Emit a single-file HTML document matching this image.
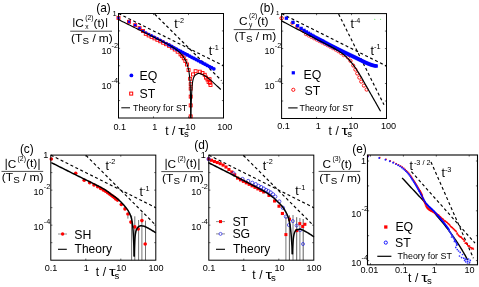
<!DOCTYPE html>
<html><head><meta charset="utf-8"><title>Correlation functions</title>
<style>
html,body{margin:0;padding:0;background:#fff;}
body{width:479px;height:287px;overflow:hidden;}
svg{display:block;will-change:transform;opacity:0.999;filter:blur(0.3px);}
svg text{font-family:"Liberation Sans",sans-serif;}
</style></head><body>
<svg width="479" height="287" viewBox="0 0 479 287">
<rect width="479" height="287" fill="#fff"/>
<line x1="118.5" y1="13.5" x2="223.5" y2="65.75" stroke="#000" stroke-width="1.15" stroke-dasharray="3.0 2.5"/>
<line x1="154.7" y1="14.1" x2="221.5" y2="80.58" stroke="#000" stroke-width="1.2" stroke-dasharray="3.0 2.5"/>
<rect x="117" y="16.4" width="3" height="3" fill="none" stroke="#ff0000" stroke-width="0.9"/>
<rect x="127.54" y="20.32" width="3" height="3" fill="none" stroke="#ff0000" stroke-width="0.9"/>
<rect x="133.7" y="23.7" width="3" height="3" fill="none" stroke="#ff0000" stroke-width="0.9"/>
<rect x="138.07" y="26.68" width="3" height="3" fill="none" stroke="#ff0000" stroke-width="0.9"/>
<rect x="141.46" y="29.47" width="3" height="3" fill="none" stroke="#ff0000" stroke-width="0.9"/>
<rect x="144.26" y="32.32" width="3" height="3" fill="none" stroke="#ff0000" stroke-width="0.9"/>
<rect x="147.16" y="33.96" width="3" height="3" fill="none" stroke="#ff0000" stroke-width="0.9"/>
<rect x="150.06" y="35.39" width="3" height="3" fill="none" stroke="#ff0000" stroke-width="0.9"/>
<rect x="152.96" y="36.84" width="3" height="3" fill="none" stroke="#ff0000" stroke-width="0.9"/>
<rect x="155.86" y="38.27" width="3" height="3" fill="none" stroke="#ff0000" stroke-width="0.9"/>
<rect x="158.76" y="39.74" width="3" height="3" fill="none" stroke="#ff0000" stroke-width="0.9"/>
<rect x="161.66" y="41.21" width="3" height="3" fill="none" stroke="#ff0000" stroke-width="0.9"/>
<rect x="164.56" y="42.7" width="3" height="3" fill="none" stroke="#ff0000" stroke-width="0.9"/>
<rect x="167.46" y="44.29" width="3" height="3" fill="none" stroke="#ff0000" stroke-width="0.9"/>
<rect x="170.36" y="46.05" width="3" height="3" fill="none" stroke="#ff0000" stroke-width="0.9"/>
<rect x="173.26" y="47.99" width="3" height="3" fill="none" stroke="#ff0000" stroke-width="0.9"/>
<rect x="176.16" y="50.2" width="3" height="3" fill="none" stroke="#ff0000" stroke-width="0.9"/>
<rect x="179.06" y="52.87" width="3" height="3" fill="none" stroke="#ff0000" stroke-width="0.9"/>
<rect x="180.66" y="54.63" width="3" height="3" fill="none" stroke="#ff0000" stroke-width="0.9"/>
<rect x="182.26" y="56.75" width="3" height="3" fill="none" stroke="#ff0000" stroke-width="0.9"/>
<rect x="183.86" y="59.41" width="3" height="3" fill="none" stroke="#ff0000" stroke-width="0.9"/>
<rect x="185.46" y="63" width="3" height="3" fill="none" stroke="#ff0000" stroke-width="0.9"/>
<rect x="187.06" y="68.56" width="3" height="3" fill="none" stroke="#ff0000" stroke-width="0.9"/>
<rect x="188.66" y="77.26" width="3" height="3" fill="none" stroke="#ff0000" stroke-width="0.9"/>
<rect x="189.2" y="82.7" width="3" height="3" fill="none" stroke="#ff0000" stroke-width="0.9"/>
<rect x="189.2" y="87.1" width="3" height="3" fill="none" stroke="#ff0000" stroke-width="0.9"/>
<rect x="189.2" y="95.1" width="3" height="3" fill="none" stroke="#ff0000" stroke-width="0.9"/>
<rect x="189.2" y="103.9" width="3" height="3" fill="none" stroke="#ff0000" stroke-width="0.9"/>
<rect x="189.2" y="114.9" width="3" height="3" fill="none" stroke="#ff0000" stroke-width="0.9"/>
<rect x="191.5" y="72.9" width="3" height="3" fill="none" stroke="#ff0000" stroke-width="0.9"/>
<rect x="194.1" y="69.7" width="3" height="3" fill="none" stroke="#ff0000" stroke-width="0.9"/>
<rect x="198.3" y="70.2" width="3" height="3" fill="none" stroke="#ff0000" stroke-width="0.9"/>
<rect x="201" y="71.5" width="3" height="3" fill="none" stroke="#ff0000" stroke-width="0.9"/>
<rect x="203.2" y="73.3" width="3" height="3" fill="none" stroke="#ff0000" stroke-width="0.9"/>
<rect x="204.5" y="76.1" width="3" height="3" fill="none" stroke="#ff0000" stroke-width="0.9"/>
<rect x="206" y="78" width="3" height="3" fill="none" stroke="#ff0000" stroke-width="0.9"/>
<rect x="208" y="77.7" width="3" height="3" fill="none" stroke="#ff0000" stroke-width="0.9"/>
<rect x="207.1" y="80.5" width="3" height="3" fill="none" stroke="#ff0000" stroke-width="0.9"/>
<rect x="209" y="83.5" width="3" height="3" fill="none" stroke="#ff0000" stroke-width="0.9"/>
<rect x="208.5" y="81.3" width="3" height="3" fill="none" stroke="#ff0000" stroke-width="0.9"/>
<circle cx="118.5" cy="17.9" r="1.35" fill="#0000ff"/>
<circle cx="129.04" cy="21.82" r="1.35" fill="#0000ff"/>
<circle cx="135.2" cy="25.2" r="1.35" fill="#0000ff"/>
<circle cx="139.57" cy="28.18" r="1.35" fill="#0000ff"/>
<circle cx="142.96" cy="30.98" r="1.35" fill="#0000ff"/>
<circle cx="145.76" cy="32.57" r="1.35" fill="#0000ff"/>
<circle cx="148.66" cy="34.11" r="1.35" fill="#0000ff"/>
<circle cx="151.56" cy="35.59" r="1.5" fill="#0000ff"/>
<circle cx="154.46" cy="37.02" r="1.5" fill="#0000ff"/>
<circle cx="157.36" cy="38.45" r="1.5" fill="#0000ff"/>
<circle cx="160.26" cy="39.94" r="1.5" fill="#0000ff"/>
<circle cx="163.16" cy="41.53" r="1.5" fill="#0000ff"/>
<circle cx="166.06" cy="43.18" r="1.5" fill="#0000ff"/>
<circle cx="168.9" cy="44.82" r="1.85" fill="#0000ff"/>
<circle cx="171.57" cy="46.37" r="1.85" fill="#0000ff"/>
<circle cx="174.07" cy="47.79" r="1.85" fill="#0000ff"/>
<circle cx="176.43" cy="49.08" r="1.85" fill="#0000ff"/>
<circle cx="178.64" cy="50.28" r="1.85" fill="#0000ff"/>
<circle cx="180.84" cy="51.46" r="1.85" fill="#0000ff"/>
<circle cx="183.04" cy="52.62" r="1.85" fill="#0000ff"/>
<circle cx="185.24" cy="53.79" r="1.85" fill="#0000ff"/>
<circle cx="187.44" cy="54.95" r="1.85" fill="#0000ff"/>
<circle cx="189.64" cy="56.11" r="1.85" fill="#0000ff"/>
<circle cx="191.84" cy="57.28" r="1.85" fill="#0000ff"/>
<circle cx="194.04" cy="58.44" r="1.85" fill="#0000ff"/>
<circle cx="196.24" cy="59.6" r="1.85" fill="#0000ff"/>
<circle cx="198.44" cy="60.75" r="1.85" fill="#0000ff"/>
<circle cx="200.64" cy="61.91" r="1.85" fill="#0000ff"/>
<circle cx="202.84" cy="63.07" r="1.85" fill="#0000ff"/>
<circle cx="205.04" cy="64.22" r="1.85" fill="#0000ff"/>
<circle cx="207.24" cy="65.38" r="1.85" fill="#0000ff"/>
<circle cx="209.44" cy="66.53" r="1.85" fill="#0000ff"/>
<circle cx="211.64" cy="67.68" r="1.85" fill="#0000ff"/>
<circle cx="213.84" cy="68.8" r="1.85" fill="#0000ff"/>
<path d="M118.5 19.6 L119.89 20.29 L121.27 20.98 L122.66 21.66 L124.04 22.35 L125.42 23.04 L126.81 23.73 L128.19 24.42 L129.58 25.11 L130.96 25.8 L132.35 26.49 L133.73 27.18 L135.12 27.87 L136.5 28.55 L137.88 29.24 L139.27 29.94 L140.65 30.63 L142.04 31.31 L143.42 32 L144.81 32.69 L146.2 33.37 L147.58 34.06 L148.97 34.75 L150.35 35.43 L151.74 36.12 L153.12 36.81 L154.5 37.5 L155.89 38.2 L157.27 38.9 L158.64 39.6 L160.02 40.31 L161.39 41.02 L162.77 41.72 L164.15 42.43 L165.52 43.14 L166.89 43.87 L168.25 44.61 L169.59 45.36 L170.93 46.14 L172.26 46.94 L173.58 47.75 L174.87 48.6 L176.13 49.49 L177.36 50.44 L178.55 51.43 L179.68 52.48 L180.75 53.59 L181.78 54.76 L182.75 55.98 L183.65 57.24 L184.45 58.54 L185.2 59.9 L185.9 61.3 L186.53 62.72 L187.06 64.16 L187.52 65.63 L187.96 67.12 L188.35 68.63 L188.68 70.15 L188.95 71.67 L189.16 73.19 L189.36 74.72 L189.54 76.26 L189.71 77.8 L189.86 79.34 L189.98 80.89 L190.09 82.44 L190.16 83.98 L190.22 85.53 L190.26 87.07 L190.3 88.61 L190.34 90.15 L190.38 91.7 L190.41 93.24 L190.45 94.79 L190.48 96.33 L190.51 97.88 L190.54 99.42 L190.56 100.97 L190.59 102.51 L190.61 104.06 L190.63 105.61 L190.64 107.16 L190.66 108.7 L190.67 110.25 L190.68 111.8 L190.69 113.35 L190.7 114.9 L190.7 116.45 L190.7 118" fill="none" stroke="#000" stroke-width="1.1" stroke-linejoin="round"/>
<path d="M190.9 118 L190.9 116.91 L190.91 115.83 L190.92 114.74 L190.94 113.65 L190.96 112.57 L190.98 111.48 L191.01 110.39 L191.03 109.31 L191.07 108.22 L191.1 107.14 L191.14 106.05 L191.18 104.97 L191.22 103.88 L191.26 102.79 L191.3 101.71 L191.35 100.63 L191.4 99.54 L191.44 98.46 L191.49 97.37 L191.54 96.29 L191.59 95.2 L191.64 94.12 L191.69 93.03 L191.75 91.94 L191.81 90.85 L191.87 89.76 L191.95 88.66 L192.02 87.58 L192.11 86.49 L192.21 85.41 L192.32 84.33 L192.44 83.27 L192.57 82.2 L192.74 81.12 L192.97 79.99 L193.27 78.86 L193.62 77.78 L194.04 76.81 L194.51 75.99 L195.16 75.24 L196.07 74.49 L197.11 73.86 L198.18 73.47 L199.18 73.42 L200.2 73.62 L201.24 73.98 L202.29 74.45 L203.31 74.95 L204.27 75.44 L205.2 75.96 L206.11 76.55 L206.99 77.2 L207.86 77.87 L208.72 78.56 L209.57 79.25 L210.41 79.93 L211.24 80.63 L212.06 81.35 L212.86 82.08 L213.66 82.82 L214.45 83.56 L215.25 84.3 L216.05 85.04 L216.84 85.78 L217.64 86.52 L218.43 87.26 L219.22 88 L220.01 88.75 L220.8 89.5" fill="none" stroke="#000" stroke-width="1.1" stroke-linejoin="round"/>
<rect x="118.5" y="13.5" width="105" height="104.5" fill="none" stroke="#000" stroke-width="1.0"/>
<line x1="153.5" y1="118" x2="153.5" y2="116.4" stroke="#000" stroke-width="0.6"/>
<line x1="153.5" y1="13.5" x2="153.5" y2="15.1" stroke="#000" stroke-width="0.6"/>
<line x1="188.5" y1="118" x2="188.5" y2="116.4" stroke="#000" stroke-width="0.6"/>
<line x1="188.5" y1="13.5" x2="188.5" y2="15.1" stroke="#000" stroke-width="0.6"/>
<line x1="118.5" y1="30.92" x2="120.1" y2="30.92" stroke="#000" stroke-width="0.6"/>
<line x1="223.5" y1="30.92" x2="221.9" y2="30.92" stroke="#000" stroke-width="0.6"/>
<line x1="118.5" y1="48.33" x2="120.1" y2="48.33" stroke="#000" stroke-width="0.6"/>
<line x1="223.5" y1="48.33" x2="221.9" y2="48.33" stroke="#000" stroke-width="0.6"/>
<line x1="118.5" y1="65.75" x2="120.1" y2="65.75" stroke="#000" stroke-width="0.6"/>
<line x1="223.5" y1="65.75" x2="221.9" y2="65.75" stroke="#000" stroke-width="0.6"/>
<line x1="118.5" y1="83.17" x2="120.1" y2="83.17" stroke="#000" stroke-width="0.6"/>
<line x1="223.5" y1="83.17" x2="221.9" y2="83.17" stroke="#000" stroke-width="0.6"/>
<line x1="118.5" y1="100.58" x2="120.1" y2="100.58" stroke="#000" stroke-width="0.6"/>
<line x1="223.5" y1="100.58" x2="221.9" y2="100.58" stroke="#000" stroke-width="0.6"/>
<text x="96.3" y="11.5" font-size="11.9" text-anchor="start" fill="#000">(a)</text>
<text x="116.8" y="15.6" font-size="7.6" text-anchor="end" fill="#000">1</text>
<text x="111.5" y="53.6" font-size="9.1" text-anchor="end" fill="#000">10</text>
<text x="111.6" y="47.7" font-size="7.3" text-anchor="start" fill="#000">-2</text>
<text x="111.5" y="88.6" font-size="9.1" text-anchor="end" fill="#000">10</text>
<text x="111.6" y="82.7" font-size="7.3" text-anchor="start" fill="#000">-4</text>
<text x="119.8" y="129.7" font-size="9.1" text-anchor="middle" fill="#000">0.1</text>
<text x="154.8" y="129.7" font-size="9.1" text-anchor="middle" fill="#000">1</text>
<text x="224.8" y="129.7" font-size="9.1" text-anchor="middle" fill="#000">100</text>
<text x="190.4" y="129.7" font-size="9.1" text-anchor="middle" fill="#000">10</text>
<text x="165.2" y="134.6" font-size="12" text-anchor="start" fill="#000">t</text>
<text x="172.1" y="134.6" font-size="12" text-anchor="start" fill="#000">/</text>
<text transform="translate(178.3 134.6) scale(1.400 1)" font-size="12" text-anchor="start" fill="#000">τ</text>
<text x="184" y="136.9" font-size="9.6" text-anchor="start" fill="#000">s</text>
<text x="174.2" y="28.3" font-size="12.5" text-anchor="start" fill="#000">t</text>
<text x="177.7" y="23.05" font-size="7.3" text-anchor="start" fill="#000">-2</text>
<text x="208.8" y="54.9" font-size="12.5" text-anchor="start" fill="#000">t</text>
<text x="212.3" y="49.65" font-size="7.3" text-anchor="start" fill="#000">-1</text>
<line x1="73.8" y1="18.1" x2="73.8" y2="27" stroke="#000" stroke-width="0.95"/>
<text x="75.3" y="26.9" font-size="11.8" text-anchor="start" fill="#000">C</text>
<text x="85.2" y="20.2" font-size="6.8" text-anchor="start" fill="#000">(2)</text>
<text x="85.2" y="28.7" font-size="6.6" text-anchor="start" fill="#000">x</text>
<text transform="translate(93.5 26.7) scale(1.130 1)" font-size="10.6" text-anchor="start" fill="#000">(t)</text>
<line x1="106.6" y1="18.1" x2="106.6" y2="27" stroke="#000" stroke-width="0.95"/>
<line x1="70.2" y1="31.2" x2="112" y2="31.2" stroke="#000" stroke-width="0.7"/>
<text transform="translate(71 42.2) scale(1.120 1)" font-size="10.7" text-anchor="start" fill="#000">(T</text>
<text x="82.5" y="44.3" font-size="9.8" text-anchor="start" fill="#000">S</text>
<text transform="translate(92.4 42.2) scale(1.120 1)" font-size="10.7" text-anchor="start" fill="#000">/</text>
<text transform="translate(98.8 42.2) scale(1.120 1)" font-size="10.7" text-anchor="start" fill="#000">m)</text>
<circle cx="131.4" cy="75.4" r="1.9" fill="#0000ff"/>
<text x="139.6" y="80.2" font-size="12.3" text-anchor="start" fill="#000">EQ</text>
<rect x="129.7" y="92.1" width="3" height="3" fill="none" stroke="#ff0000" stroke-width="1"/>
<text x="139.6" y="98.3" font-size="12.3" text-anchor="start" fill="#000">ST</text>
<line x1="121.3" y1="107.8" x2="130" y2="107.8" stroke="#000" stroke-width="1"/>
<text x="133" y="110.9" font-size="8.9" text-anchor="start" fill="#000">Theory for ST</text>
<line x1="281.6" y1="13.6" x2="386.5" y2="66.05" stroke="#000" stroke-width="1.15" stroke-dasharray="3.0 2.5"/>
<line x1="338.6" y1="14" x2="384" y2="104.8" stroke="#000" stroke-width="1.15" stroke-dasharray="3.0 2.5"/>
<circle cx="281.6" cy="18.2" r="1.7" fill="none" stroke="#ff0000" stroke-width="1"/>
<circle cx="305.8" cy="34.23" r="1.45" fill="none" stroke="#ff0000" stroke-width="0.7"/>
<circle cx="308.5" cy="35.64" r="1.45" fill="none" stroke="#ff0000" stroke-width="0.7"/>
<circle cx="311.2" cy="37.04" r="1.45" fill="none" stroke="#ff0000" stroke-width="0.7"/>
<circle cx="313.9" cy="38.44" r="1.45" fill="none" stroke="#ff0000" stroke-width="0.7"/>
<circle cx="316.6" cy="39.84" r="1.45" fill="none" stroke="#ff0000" stroke-width="0.7"/>
<circle cx="319.3" cy="41.24" r="1.45" fill="none" stroke="#ff0000" stroke-width="0.7"/>
<circle cx="322" cy="42.63" r="1.45" fill="none" stroke="#ff0000" stroke-width="0.7"/>
<circle cx="324.7" cy="44.01" r="1.45" fill="none" stroke="#ff0000" stroke-width="0.7"/>
<circle cx="327.4" cy="45.4" r="1.45" fill="none" stroke="#ff0000" stroke-width="0.7"/>
<circle cx="330.1" cy="46.84" r="1.45" fill="none" stroke="#ff0000" stroke-width="0.7"/>
<circle cx="332.8" cy="48.3" r="1.45" fill="none" stroke="#ff0000" stroke-width="0.7"/>
<circle cx="335.5" cy="49.8" r="1.45" fill="none" stroke="#ff0000" stroke-width="0.7"/>
<circle cx="338.2" cy="51.42" r="1.45" fill="none" stroke="#ff0000" stroke-width="0.7"/>
<circle cx="340.9" cy="53.24" r="1.45" fill="none" stroke="#ff0000" stroke-width="0.7"/>
<circle cx="343.6" cy="55.28" r="1.45" fill="none" stroke="#ff0000" stroke-width="0.7"/>
<circle cx="347.8" cy="57.4" r="1.6" fill="none" stroke="#ff0000" stroke-width="0.9"/>
<circle cx="350.5" cy="60.9" r="1.6" fill="none" stroke="#ff0000" stroke-width="0.9"/>
<circle cx="353.2" cy="65.5" r="1.6" fill="none" stroke="#ff0000" stroke-width="0.9"/>
<circle cx="355.4" cy="69.6" r="1.6" fill="none" stroke="#ff0000" stroke-width="0.9"/>
<circle cx="357.2" cy="73.5" r="1.6" fill="none" stroke="#ff0000" stroke-width="0.9"/>
<circle cx="359.3" cy="77.6" r="1.6" fill="none" stroke="#ff0000" stroke-width="0.9"/>
<circle cx="361.2" cy="81.6" r="1.6" fill="none" stroke="#ff0000" stroke-width="0.9"/>
<circle cx="363.9" cy="85.6" r="1.6" fill="none" stroke="#ff0000" stroke-width="0.9"/>
<circle cx="366.6" cy="89.6" r="1.6" fill="none" stroke="#ff0000" stroke-width="0.9"/>
<circle cx="292.31" cy="23.08" r="1.5" fill="none" stroke="#ff0000" stroke-width="0.8"/>
<circle cx="296.91" cy="26.43" r="1.5" fill="none" stroke="#ff0000" stroke-width="0.8"/>
<circle cx="300.44" cy="29.11" r="1.5" fill="none" stroke="#ff0000" stroke-width="0.8"/>
<circle cx="303.3" cy="31.06" r="1.5" fill="none" stroke="#ff0000" stroke-width="0.8"/>
<rect x="284.73" y="16.54" width="3.3" height="3.3" fill="#0000ff"/>
<rect x="291.36" y="20.73" width="3.3" height="3.3" fill="#0000ff"/>
<rect x="295.96" y="24.08" width="3.3" height="3.3" fill="#0000ff"/>
<rect x="299.49" y="26.76" width="3.3" height="3.3" fill="#0000ff"/>
<rect x="302.35" y="28.71" width="3.3" height="3.3" fill="#0000ff"/>
<rect x="304.75" y="30.27" width="3.3" height="3.3" fill="#0000ff"/>
<rect x="306.83" y="31.57" width="3.3" height="3.3" fill="#0000ff"/>
<rect x="308.65" y="32.69" width="3.3" height="3.3" fill="#0000ff"/>
<rect x="310.28" y="33.66" width="3.3" height="3.3" fill="#0000ff"/>
<rect x="311.75" y="34.52" width="3.3" height="3.3" fill="#0000ff"/>
<rect x="313.1" y="35.3" width="3.3" height="3.3" fill="#0000ff"/>
<rect x="314.33" y="36.01" width="3.3" height="3.3" fill="#0000ff"/>
<rect x="315.47" y="36.65" width="3.3" height="3.3" fill="#0000ff"/>
<rect x="316.53" y="37.23" width="3.3" height="3.3" fill="#0000ff"/>
<rect x="317.52" y="37.77" width="3.3" height="3.3" fill="#0000ff"/>
<rect x="318.45" y="38.27" width="3.3" height="3.3" fill="#0000ff"/>
<rect x="319.33" y="38.73" width="3.3" height="3.3" fill="#0000ff"/>
<rect x="320.16" y="39.17" width="3.3" height="3.3" fill="#0000ff"/>
<rect x="320.94" y="39.58" width="3.3" height="3.3" fill="#0000ff"/>
<rect x="321.07" y="39.65" width="3.3" height="3.3" fill="#0000ff"/>
<rect x="322.12" y="40.2" width="3.3" height="3.3" fill="#0000ff"/>
<rect x="323.17" y="40.76" width="3.3" height="3.3" fill="#0000ff"/>
<rect x="324.22" y="41.31" width="3.3" height="3.3" fill="#0000ff"/>
<rect x="325.27" y="41.86" width="3.3" height="3.3" fill="#0000ff"/>
<rect x="326.32" y="42.41" width="3.3" height="3.3" fill="#0000ff"/>
<rect x="327.37" y="42.96" width="3.3" height="3.3" fill="#0000ff"/>
<rect x="328.42" y="43.5" width="3.3" height="3.3" fill="#0000ff"/>
<rect x="329.47" y="44.04" width="3.3" height="3.3" fill="#0000ff"/>
<rect x="330.51" y="44.59" width="3.3" height="3.3" fill="#0000ff"/>
<rect x="331.56" y="45.12" width="3.3" height="3.3" fill="#0000ff"/>
<rect x="332.61" y="45.66" width="3.3" height="3.3" fill="#0000ff"/>
<rect x="333.66" y="46.2" width="3.3" height="3.3" fill="#0000ff"/>
<rect x="334.71" y="46.73" width="3.3" height="3.3" fill="#0000ff"/>
<rect x="335.76" y="47.26" width="3.3" height="3.3" fill="#0000ff"/>
<rect x="336.81" y="47.78" width="3.3" height="3.3" fill="#0000ff"/>
<rect x="337.86" y="48.31" width="3.3" height="3.3" fill="#0000ff"/>
<rect x="338.91" y="48.83" width="3.3" height="3.3" fill="#0000ff"/>
<rect x="339.96" y="49.34" width="3.3" height="3.3" fill="#0000ff"/>
<rect x="341" y="49.86" width="3.3" height="3.3" fill="#0000ff"/>
<rect x="342.05" y="50.36" width="3.3" height="3.3" fill="#0000ff"/>
<rect x="343.1" y="50.87" width="3.3" height="3.3" fill="#0000ff"/>
<rect x="344.15" y="51.38" width="3.3" height="3.3" fill="#0000ff"/>
<rect x="345.2" y="51.88" width="3.3" height="3.3" fill="#0000ff"/>
<rect x="346.25" y="52.38" width="3.3" height="3.3" fill="#0000ff"/>
<rect x="347.3" y="52.88" width="3.3" height="3.3" fill="#0000ff"/>
<rect x="348.35" y="53.38" width="3.3" height="3.3" fill="#0000ff"/>
<rect x="349.4" y="53.87" width="3.3" height="3.3" fill="#0000ff"/>
<rect x="350.45" y="54.37" width="3.3" height="3.3" fill="#0000ff"/>
<rect x="351.49" y="54.87" width="3.3" height="3.3" fill="#0000ff"/>
<rect x="352.54" y="55.37" width="3.3" height="3.3" fill="#0000ff"/>
<rect x="353.59" y="55.87" width="3.3" height="3.3" fill="#0000ff"/>
<rect x="354.64" y="56.37" width="3.3" height="3.3" fill="#0000ff"/>
<rect x="355.69" y="56.89" width="3.3" height="3.3" fill="#0000ff"/>
<rect x="356.74" y="57.41" width="3.3" height="3.3" fill="#0000ff"/>
<rect x="357.79" y="57.93" width="3.3" height="3.3" fill="#0000ff"/>
<rect x="358.84" y="58.45" width="3.3" height="3.3" fill="#0000ff"/>
<rect x="359.89" y="58.97" width="3.3" height="3.3" fill="#0000ff"/>
<rect x="360.94" y="59.48" width="3.3" height="3.3" fill="#0000ff"/>
<rect x="361.98" y="59.99" width="3.3" height="3.3" fill="#0000ff"/>
<rect x="363.03" y="60.49" width="3.3" height="3.3" fill="#0000ff"/>
<rect x="364.08" y="60.97" width="3.3" height="3.3" fill="#0000ff"/>
<rect x="365.13" y="61.43" width="3.3" height="3.3" fill="#0000ff"/>
<rect x="366.18" y="61.88" width="3.3" height="3.3" fill="#0000ff"/>
<rect x="367.23" y="62.3" width="3.3" height="3.3" fill="#0000ff"/>
<rect x="368.28" y="62.72" width="3.3" height="3.3" fill="#0000ff"/>
<rect x="369.33" y="63.12" width="3.3" height="3.3" fill="#0000ff"/>
<rect x="370.38" y="63.48" width="3.3" height="3.3" fill="#0000ff"/>
<rect x="371.43" y="63.77" width="3.3" height="3.3" fill="#0000ff"/>
<rect x="372.47" y="64" width="3.3" height="3.3" fill="#0000ff"/>
<rect x="373.52" y="64.2" width="3.3" height="3.3" fill="#0000ff"/>
<rect x="374.57" y="64.35" width="3.3" height="3.3" fill="#0000ff"/>
<path d="M281.6 20.9 L282.98 21.63 L284.35 22.36 L285.73 23.09 L287.11 23.82 L288.48 24.54 L289.86 25.27 L291.24 26 L292.62 26.72 L294 27.45 L295.37 28.17 L296.75 28.9 L298.13 29.62 L299.51 30.34 L300.89 31.07 L302.27 31.79 L303.65 32.51 L305.03 33.23 L306.42 33.95 L307.8 34.67 L309.18 35.38 L310.56 36.1 L311.95 36.82 L313.33 37.54 L314.71 38.26 L316.09 38.97 L317.48 39.69 L318.86 40.41 L320.24 41.13 L321.63 41.84 L323.01 42.55 L324.4 43.25 L325.79 43.96 L327.17 44.68 L328.55 45.4 L329.93 46.13 L331.29 46.88 L332.67 47.62 L334.04 48.37 L335.4 49.13 L336.76 49.91 L338.09 50.72 L339.39 51.56 L340.67 52.44 L341.94 53.35 L343.19 54.3 L344.41 55.28 L345.59 56.3 L346.73 57.34 L347.82 58.43 L348.88 59.56 L349.9 60.74 L350.9 61.94 L351.87 63.18 L352.83 64.42 L353.76 65.67 L354.68 66.92 L355.58 68.19 L356.46 69.48 L357.32 70.78 L358.17 72.09 L359 73.41 L359.82 74.74 L360.62 76.07 L361.4 77.42 L362.16 78.78 L362.92 80.14 L363.68 81.5 L364.46 82.85 L365.23 84.21 L366 85.56 L366.77 86.91 L367.54 88.27 L368.31 89.62 L369.08 90.97 L369.85 92.33 L370.62 93.68 L371.38 95.04 L372.15 96.39 L372.92 97.75 L373.69 99.1 L374.46 100.46 L375.23 101.81 L376 103.17 L376.76 104.52 L377.53 105.88 L378.3 107.23 L379.07 108.59 L379.83 109.94 L380.6 111.3" fill="none" stroke="#000" stroke-width="1.2" stroke-linejoin="round"/>
<rect x="281.6" y="13.6" width="104.9" height="104.9" fill="none" stroke="#000" stroke-width="1.0"/>
<line x1="316.57" y1="118.5" x2="316.57" y2="116.9" stroke="#000" stroke-width="0.6"/>
<line x1="316.57" y1="13.6" x2="316.57" y2="15.2" stroke="#000" stroke-width="0.6"/>
<line x1="351.53" y1="118.5" x2="351.53" y2="116.9" stroke="#000" stroke-width="0.6"/>
<line x1="351.53" y1="13.6" x2="351.53" y2="15.2" stroke="#000" stroke-width="0.6"/>
<line x1="281.6" y1="31.08" x2="283.2" y2="31.08" stroke="#000" stroke-width="0.6"/>
<line x1="386.5" y1="31.08" x2="384.9" y2="31.08" stroke="#000" stroke-width="0.6"/>
<line x1="281.6" y1="48.57" x2="283.2" y2="48.57" stroke="#000" stroke-width="0.6"/>
<line x1="386.5" y1="48.57" x2="384.9" y2="48.57" stroke="#000" stroke-width="0.6"/>
<line x1="281.6" y1="66.05" x2="283.2" y2="66.05" stroke="#000" stroke-width="0.6"/>
<line x1="386.5" y1="66.05" x2="384.9" y2="66.05" stroke="#000" stroke-width="0.6"/>
<line x1="281.6" y1="83.53" x2="283.2" y2="83.53" stroke="#000" stroke-width="0.6"/>
<line x1="386.5" y1="83.53" x2="384.9" y2="83.53" stroke="#000" stroke-width="0.6"/>
<line x1="281.6" y1="101.02" x2="283.2" y2="101.02" stroke="#000" stroke-width="0.6"/>
<line x1="386.5" y1="101.02" x2="384.9" y2="101.02" stroke="#000" stroke-width="0.6"/>
<circle cx="374.8" cy="19.3" r="0.55" fill="#50e050"/>
<circle cx="380.6" cy="19.3" r="0.55" fill="#50e050"/>
<text x="259.7" y="12" font-size="11.9" text-anchor="start" fill="#000">(b)</text>
<text x="279.4" y="14.6" font-size="6.2" text-anchor="end" fill="#000">1</text>
<text x="274.7" y="53.6" font-size="9.1" text-anchor="end" fill="#000">10</text>
<text x="274.8" y="47.7" font-size="7.3" text-anchor="start" fill="#000">-2</text>
<text x="274.7" y="88.6" font-size="9.1" text-anchor="end" fill="#000">10</text>
<text x="274.8" y="82.7" font-size="7.3" text-anchor="start" fill="#000">-4</text>
<text x="283.6" y="129.3" font-size="9.1" text-anchor="middle" fill="#000">0.1</text>
<text x="318.37" y="129.3" font-size="9.1" text-anchor="middle" fill="#000">1</text>
<text x="388.5" y="129.3" font-size="9.1" text-anchor="middle" fill="#000">100</text>
<text x="353.33" y="129.3" font-size="9.1" text-anchor="middle" fill="#000">10</text>
<text x="328.5" y="134.6" font-size="12" text-anchor="start" fill="#000">t</text>
<text x="335.4" y="134.6" font-size="12" text-anchor="start" fill="#000">/</text>
<text transform="translate(341.6 134.6) scale(1.400 1)" font-size="12" text-anchor="start" fill="#000">τ</text>
<text x="347.3" y="136.9" font-size="9.6" text-anchor="start" fill="#000">s</text>
<text x="350.4" y="28" font-size="12.5" text-anchor="start" fill="#000">t</text>
<text x="353.9" y="22.75" font-size="7.3" text-anchor="start" fill="#000">-4</text>
<text x="370.5" y="54.6" font-size="12.5" text-anchor="start" fill="#000">t</text>
<text x="374" y="49.35" font-size="7.3" text-anchor="start" fill="#000">-1</text>
<text x="239.1" y="24.9" font-size="11.8" text-anchor="start" fill="#000">C</text>
<text x="249" y="18.2" font-size="6.8" text-anchor="start" fill="#000">(2)</text>
<text x="249" y="26.7" font-size="6.6" text-anchor="start" fill="#000">y</text>
<text transform="translate(257.3 24.7) scale(1.130 1)" font-size="10.6" text-anchor="start" fill="#000">(t)</text>
<line x1="233.7" y1="29.6" x2="274.9" y2="29.6" stroke="#000" stroke-width="0.7"/>
<text transform="translate(234.4 40.1) scale(1.120 1)" font-size="10.7" text-anchor="start" fill="#000">(T</text>
<text x="245.9" y="42.2" font-size="9.8" text-anchor="start" fill="#000">S</text>
<text transform="translate(255.8 40.1) scale(1.120 1)" font-size="10.7" text-anchor="start" fill="#000">/</text>
<text transform="translate(262.2 40.1) scale(1.120 1)" font-size="10.7" text-anchor="start" fill="#000">m)</text>
<rect x="291.7" y="71.2" width="3.2" height="3.2" fill="#0000ff"/>
<text x="303.6" y="78.6" font-size="12.3" text-anchor="start" fill="#000">EQ</text>
<circle cx="293.3" cy="89.8" r="1.6" fill="none" stroke="#ff0000" stroke-width="0.9"/>
<text x="304.6" y="95.2" font-size="12.3" text-anchor="start" fill="#000">ST</text>
<line x1="288.2" y1="107.9" x2="297.6" y2="107.9" stroke="#000" stroke-width="1.1"/>
<text x="299.6" y="111.3" font-size="8.8" text-anchor="start" fill="#000">Theory for ST</text>
<line x1="50.8" y1="155.1" x2="155.8" y2="207.65" stroke="#000" stroke-width="1.15" stroke-dasharray="3.0 2.5"/>
<line x1="86" y1="155.4" x2="155" y2="224.47" stroke="#000" stroke-width="1.15" stroke-dasharray="3.0 2.5"/>
<line x1="127.9" y1="215.5" x2="127.9" y2="218.6" stroke="#444" stroke-width="0.75"/>
<line x1="131.6" y1="215.5" x2="131.6" y2="260.2" stroke="#444" stroke-width="0.75"/>
<line x1="134.8" y1="216.3" x2="134.8" y2="260.2" stroke="#444" stroke-width="0.75"/>
<line x1="138.6" y1="220" x2="138.6" y2="260.2" stroke="#444" stroke-width="0.75"/>
<line x1="141.9" y1="212.6" x2="141.9" y2="260.2" stroke="#444" stroke-width="0.75"/>
<line x1="145.5" y1="220.6" x2="145.5" y2="260.2" stroke="#444" stroke-width="0.75"/>
<circle cx="51.3" cy="159" r="1.8" fill="#ff0000"/>
<circle cx="75.7" cy="173.2" r="1.8" fill="#ff0000"/>
<circle cx="84.2" cy="180.2" r="1.8" fill="#ff0000"/>
<circle cx="89.7" cy="182.8" r="1.8" fill="#ff0000"/>
<circle cx="94" cy="184.9" r="1.8" fill="#ff0000"/>
<circle cx="97.7" cy="186.8" r="1.8" fill="#ff0000"/>
<circle cx="100.7" cy="188.4" r="1.8" fill="#ff0000"/>
<circle cx="103.3" cy="190" r="1.8" fill="#ff0000"/>
<circle cx="105.6" cy="191.3" r="1.8" fill="#ff0000"/>
<circle cx="107.7" cy="192.7" r="1.8" fill="#ff0000"/>
<circle cx="109.6" cy="194" r="1.8" fill="#ff0000"/>
<circle cx="111.3" cy="195.2" r="1.8" fill="#ff0000"/>
<circle cx="112.9" cy="196.4" r="1.8" fill="#ff0000"/>
<circle cx="114.4" cy="197.6" r="1.8" fill="#ff0000"/>
<circle cx="115.8" cy="198.9" r="1.8" fill="#ff0000"/>
<circle cx="117.5" cy="200.1" r="1.8" fill="#ff0000"/>
<circle cx="121.3" cy="204.5" r="1.8" fill="#ff0000"/>
<circle cx="125" cy="208.9" r="1.8" fill="#ff0000"/>
<circle cx="127.9" cy="214" r="1.8" fill="#ff0000"/>
<circle cx="130.9" cy="222.1" r="1.8" fill="#ff0000"/>
<circle cx="134.8" cy="226.9" r="1.8" fill="#ff0000"/>
<circle cx="138.2" cy="229" r="1.8" fill="#ff0000"/>
<circle cx="141.9" cy="220.6" r="1.8" fill="#ff0000"/>
<circle cx="145.2" cy="244" r="1.8" fill="#ff0000"/>
<path d="M51.3 162.6 L52.69 163.3 L54.07 164 L55.46 164.7 L56.84 165.4 L58.23 166.1 L59.62 166.8 L61 167.49 L62.39 168.19 L63.78 168.89 L65.16 169.58 L66.55 170.28 L67.94 170.97 L69.33 171.67 L70.72 172.36 L72.1 173.06 L73.49 173.75 L74.88 174.44 L76.27 175.13 L77.66 175.82 L79.06 176.51 L80.45 177.19 L81.85 177.87 L83.24 178.55 L84.64 179.23 L86.03 179.92 L87.42 180.6 L88.82 181.29 L90.21 181.98 L91.59 182.67 L92.98 183.37 L94.36 184.07 L95.75 184.78 L97.14 185.48 L98.53 186.17 L99.92 186.87 L101.3 187.59 L102.67 188.33 L104.01 189.1 L105.32 189.91 L106.6 190.78 L107.84 191.71 L109.07 192.66 L110.31 193.61 L111.56 194.53 L112.84 195.41 L114.13 196.29 L115.41 197.18 L116.64 198.11 L117.82 199.1 L118.98 200.13 L120.12 201.19 L121.24 202.29 L122.32 203.41 L123.37 204.55 L124.39 205.71 L125.39 206.9 L126.36 208.13 L127.27 209.39 L128.11 210.68 L128.9 212.02 L129.61 213.41 L130.23 214.83 L130.8 216.28 L131.28 217.76 L131.65 219.26 L131.95 220.78 L132.21 222.31 L132.43 223.85 L132.62 225.4 L132.78 226.94 L132.91 228.49 L133.03 230.03 L133.14 231.58 L133.24 233.13 L133.33 234.68 L133.42 236.23 L133.49 237.79 L133.57 239.34 L133.64 240.89 L133.71 242.44 L133.78 243.99 L133.85 245.54 L133.91 247.09 L133.97 248.64 L134.02 250.19 L134.07 251.74 L134.12 253.3 L134.16 254.85 L134.2 256.4" fill="none" stroke="#000" stroke-width="1.5" stroke-linejoin="round"/>
<path d="M134.3 256.4 L134.3 255.55 L134.31 254.71 L134.31 253.86 L134.33 253.02 L134.34 252.17 L134.36 251.33 L134.38 250.49 L134.4 249.64 L134.42 248.8 L134.45 247.96 L134.48 247.12 L134.51 246.27 L134.54 245.43 L134.58 244.59 L134.62 243.75 L134.65 242.91 L134.69 242.07 L134.74 241.23 L134.78 240.4 L134.82 239.56 L134.88 238.71 L134.95 237.86 L135.03 237.01 L135.12 236.16 L135.22 235.31 L135.34 234.46 L135.47 233.63 L135.62 232.8 L135.78 231.99 L135.95 231.2 L136.17 230.4 L136.48 229.57 L136.87 228.77 L137.32 228.02 L137.82 227.39 L138.38 226.85 L139.1 226.32 L139.9 225.9 L140.71 225.7 L141.51 225.75 L142.35 225.89 L143.2 226.09 L144.02 226.3 L144.81 226.56 L145.59 226.87 L146.36 227.23 L147.12 227.61 L147.88 227.99 L148.62 228.38 L149.35 228.8 L150.08 229.23 L150.8 229.67 L151.52 230.11 L152.24 230.55 L152.96 230.99 L153.67 231.43 L154.38 231.88 L155.09 232.34 L155.8 232.8" fill="none" stroke="#000" stroke-width="1.5" stroke-linejoin="round"/>
<rect x="50.8" y="155.1" width="105" height="105.1" fill="none" stroke="#000" stroke-width="1.0"/>
<line x1="85.8" y1="260.2" x2="85.8" y2="258.6" stroke="#000" stroke-width="0.6"/>
<line x1="85.8" y1="155.1" x2="85.8" y2="156.7" stroke="#000" stroke-width="0.6"/>
<line x1="120.8" y1="260.2" x2="120.8" y2="258.6" stroke="#000" stroke-width="0.6"/>
<line x1="120.8" y1="155.1" x2="120.8" y2="156.7" stroke="#000" stroke-width="0.6"/>
<line x1="50.8" y1="172.62" x2="52.4" y2="172.62" stroke="#000" stroke-width="0.6"/>
<line x1="155.8" y1="172.62" x2="154.2" y2="172.62" stroke="#000" stroke-width="0.6"/>
<line x1="50.8" y1="190.13" x2="52.4" y2="190.13" stroke="#000" stroke-width="0.6"/>
<line x1="155.8" y1="190.13" x2="154.2" y2="190.13" stroke="#000" stroke-width="0.6"/>
<line x1="50.8" y1="207.65" x2="52.4" y2="207.65" stroke="#000" stroke-width="0.6"/>
<line x1="155.8" y1="207.65" x2="154.2" y2="207.65" stroke="#000" stroke-width="0.6"/>
<line x1="50.8" y1="225.17" x2="52.4" y2="225.17" stroke="#000" stroke-width="0.6"/>
<line x1="155.8" y1="225.17" x2="154.2" y2="225.17" stroke="#000" stroke-width="0.6"/>
<line x1="50.8" y1="242.68" x2="52.4" y2="242.68" stroke="#000" stroke-width="0.6"/>
<line x1="155.8" y1="242.68" x2="154.2" y2="242.68" stroke="#000" stroke-width="0.6"/>
<text x="19.9" y="153" font-size="11.9" text-anchor="start" fill="#000">(c)</text>
<text x="48.2" y="158.4" font-size="9.1" text-anchor="end" fill="#000">1</text>
<text x="43.7" y="194.5" font-size="9.1" text-anchor="end" fill="#000">10</text>
<text x="43.8" y="188.6" font-size="7.3" text-anchor="start" fill="#000">-2</text>
<text x="43.7" y="229.5" font-size="9.1" text-anchor="end" fill="#000">10</text>
<text x="43.8" y="223.6" font-size="7.3" text-anchor="start" fill="#000">-4</text>
<text x="51" y="271.1" font-size="9.1" text-anchor="middle" fill="#000">0.1</text>
<text x="86.3" y="271.1" font-size="9.1" text-anchor="middle" fill="#000">1</text>
<text x="156" y="271.1" font-size="9.1" text-anchor="middle" fill="#000">100</text>
<text x="121.3" y="271.1" font-size="9.1" text-anchor="middle" fill="#000">10</text>
<text x="95.8" y="276.4" font-size="12" text-anchor="start" fill="#000">t</text>
<text x="102.7" y="276.4" font-size="12" text-anchor="start" fill="#000">/</text>
<text transform="translate(108.9 276.4) scale(1.400 1)" font-size="12" text-anchor="start" fill="#000">τ</text>
<text x="114.6" y="278.7" font-size="9.6" text-anchor="start" fill="#000">s</text>
<text x="105.4" y="169.5" font-size="12.5" text-anchor="start" fill="#000">t</text>
<text x="108.9" y="164.25" font-size="7.3" text-anchor="start" fill="#000">-2</text>
<text x="139.6" y="196.4" font-size="12.5" text-anchor="start" fill="#000">t</text>
<text x="143.1" y="191.15" font-size="7.3" text-anchor="start" fill="#000">-1</text>
<line x1="6.2" y1="158.8" x2="6.2" y2="170" stroke="#000" stroke-width="0.95"/>
<text x="7.7" y="167.6" font-size="11.8" text-anchor="start" fill="#000">C</text>
<text x="17.6" y="160.9" font-size="6.8" text-anchor="start" fill="#000">(2)</text>
<text transform="translate(25.9 167.4) scale(1.130 1)" font-size="10.6" text-anchor="start" fill="#000">(t)</text>
<line x1="39" y1="158.8" x2="39" y2="170" stroke="#000" stroke-width="0.95"/>
<line x1="1.5" y1="171.4" x2="43.2" y2="171.4" stroke="#000" stroke-width="0.7"/>
<text transform="translate(1.7 181) scale(1.120 1)" font-size="10.7" text-anchor="start" fill="#000">(T</text>
<text x="13.2" y="183.1" font-size="9.8" text-anchor="start" fill="#000">S</text>
<text transform="translate(23.1 181) scale(1.120 1)" font-size="10.7" text-anchor="start" fill="#000">/</text>
<text transform="translate(29.5 181) scale(1.120 1)" font-size="10.7" text-anchor="start" fill="#000">m)</text>
<line x1="58" y1="234" x2="67" y2="234" stroke="#444" stroke-width="0.6"/>
<circle cx="62.6" cy="234" r="1.7" fill="#ff0000"/>
<text x="74.2" y="238.6" font-size="12.3" text-anchor="start" fill="#000">SH</text>
<line x1="58" y1="249.3" x2="66.8" y2="249.3" stroke="#000" stroke-width="1.1"/>
<text x="74.6" y="253.3" font-size="12" text-anchor="start" fill="#000">Theory</text>
<line x1="208.8" y1="155.1" x2="313.8" y2="207.65" stroke="#000" stroke-width="1.15" stroke-dasharray="3.0 2.5"/>
<line x1="243.4" y1="155.4" x2="312.5" y2="224.57" stroke="#000" stroke-width="1.15" stroke-dasharray="3.0 2.5"/>
<line x1="285.9" y1="216.4" x2="285.9" y2="260.2" stroke="#555" stroke-width="0.8"/>
<line x1="289.4" y1="215.4" x2="289.4" y2="260.2" stroke="#333" stroke-width="0.8"/>
<line x1="293" y1="215" x2="293" y2="260.2" stroke="#555" stroke-width="0.8"/>
<line x1="296.7" y1="217.2" x2="296.7" y2="260.2" stroke="#333" stroke-width="0.8"/>
<line x1="299.9" y1="218" x2="299.9" y2="260.2" stroke="#555" stroke-width="0.8"/>
<line x1="303.2" y1="219" x2="303.2" y2="260.2" stroke="#333" stroke-width="0.8"/>
<rect x="207.05" y="157.35" width="3.1" height="3.1" fill="#ff0000"/>
<rect x="209.95" y="158.71" width="3.1" height="3.1" fill="#ff0000"/>
<rect x="212.85" y="159.93" width="3.1" height="3.1" fill="#ff0000"/>
<rect x="215.75" y="160.96" width="3.1" height="3.1" fill="#ff0000"/>
<rect x="218.65" y="162.11" width="3.1" height="3.1" fill="#ff0000"/>
<rect x="221.55" y="163.53" width="3.1" height="3.1" fill="#ff0000"/>
<rect x="224.45" y="165.48" width="3.1" height="3.1" fill="#ff0000"/>
<rect x="227.35" y="167.97" width="3.1" height="3.1" fill="#ff0000"/>
<rect x="230.25" y="170.47" width="3.1" height="3.1" fill="#ff0000"/>
<rect x="233.15" y="173.26" width="3.1" height="3.1" fill="#ff0000"/>
<rect x="236.05" y="176.51" width="3.1" height="3.1" fill="#ff0000"/>
<rect x="238.95" y="178.27" width="3.1" height="3.1" fill="#ff0000"/>
<rect x="241.85" y="179.76" width="3.1" height="3.1" fill="#ff0000"/>
<rect x="244.75" y="181.25" width="3.1" height="3.1" fill="#ff0000"/>
<rect x="247.65" y="182.75" width="3.1" height="3.1" fill="#ff0000"/>
<rect x="250.55" y="184.26" width="3.1" height="3.1" fill="#ff0000"/>
<rect x="253.45" y="185.77" width="3.1" height="3.1" fill="#ff0000"/>
<rect x="256.35" y="187.3" width="3.1" height="3.1" fill="#ff0000"/>
<rect x="259.25" y="188.8" width="3.1" height="3.1" fill="#ff0000"/>
<rect x="262.15" y="190.38" width="3.1" height="3.1" fill="#ff0000"/>
<rect x="267.45" y="193.85" width="3.1" height="3.1" fill="#ff0000"/>
<rect x="273.05" y="199.45" width="3.1" height="3.1" fill="#ff0000"/>
<rect x="277.45" y="204.65" width="3.1" height="3.1" fill="#ff0000"/>
<rect x="280.85" y="211.95" width="3.1" height="3.1" fill="#ff0000"/>
<rect x="284.4" y="233.1" width="3" height="3" fill="#ff0000"/>
<rect x="288" y="217.7" width="3" height="3" fill="#ff0000"/>
<rect x="295.4" y="229.1" width="3" height="3" fill="#ff0000"/>
<rect x="298.3" y="222.1" width="3" height="3" fill="#ff0000"/>
<rect x="301.2" y="225" width="3" height="3" fill="#ff0000"/>
<rect x="303.4" y="222.8" width="3" height="3" fill="#ff0000"/>
<circle cx="208.6" cy="159.1" r="1.65" fill="none" stroke="#2020e0" stroke-width="0.75"/>
<circle cx="233.5" cy="173.3" r="1.65" fill="none" stroke="#2020e0" stroke-width="0.75"/>
<circle cx="242.5" cy="179" r="1.65" fill="none" stroke="#2020e0" stroke-width="0.75"/>
<circle cx="248.2" cy="181" r="1.65" fill="none" stroke="#2020e0" stroke-width="0.75"/>
<circle cx="252.3" cy="182.8" r="1.65" fill="none" stroke="#2020e0" stroke-width="0.75"/>
<circle cx="255.7" cy="184.2" r="1.65" fill="none" stroke="#2020e0" stroke-width="0.75"/>
<circle cx="258.6" cy="185.9" r="1.65" fill="none" stroke="#2020e0" stroke-width="0.75"/>
<circle cx="261.2" cy="187.1" r="1.65" fill="none" stroke="#2020e0" stroke-width="0.75"/>
<circle cx="263.8" cy="188.6" r="1.65" fill="none" stroke="#2020e0" stroke-width="0.75"/>
<circle cx="266.1" cy="190" r="1.65" fill="none" stroke="#2020e0" stroke-width="0.75"/>
<circle cx="268.4" cy="191.1" r="1.65" fill="none" stroke="#2020e0" stroke-width="0.75"/>
<circle cx="270.7" cy="192.5" r="1.65" fill="none" stroke="#2020e0" stroke-width="0.75"/>
<circle cx="273" cy="194.3" r="1.65" fill="none" stroke="#2020e0" stroke-width="0.75"/>
<circle cx="275.3" cy="196.6" r="1.65" fill="none" stroke="#2020e0" stroke-width="0.75"/>
<circle cx="279.3" cy="201.5" r="1.65" fill="none" stroke="#2020e0" stroke-width="0.75"/>
<circle cx="282.9" cy="207.8" r="1.65" fill="none" stroke="#2020e0" stroke-width="0.75"/>
<circle cx="285.9" cy="216.6" r="1.65" fill="none" stroke="#2020e0" stroke-width="0.75"/>
<circle cx="288.8" cy="225" r="1.5" fill="none" stroke="#2020e0" stroke-width="0.7"/>
<circle cx="292.8" cy="221.1" r="1.5" fill="none" stroke="#2020e0" stroke-width="0.7"/>
<circle cx="296.6" cy="225.5" r="1.5" fill="none" stroke="#2020e0" stroke-width="0.7"/>
<circle cx="300.2" cy="230.1" r="1.5" fill="none" stroke="#2020e0" stroke-width="0.7"/>
<circle cx="303" cy="244" r="1.5" fill="none" stroke="#2020e0" stroke-width="0.7"/>
<path d="M208.3 162.6 L209.67 163.28 L211.04 163.97 L212.4 164.65 L213.77 165.34 L215.14 166.03 L216.5 166.71 L217.87 167.4 L219.24 168.09 L220.6 168.78 L221.97 169.47 L223.33 170.16 L224.69 170.85 L226.06 171.54 L227.42 172.24 L228.79 172.93 L230.15 173.62 L231.51 174.32 L232.87 175.01 L234.24 175.71 L235.6 176.41 L236.96 177.1 L238.32 177.8 L239.68 178.5 L241.04 179.2 L242.4 179.89 L243.76 180.59 L245.12 181.29 L246.48 182 L247.84 182.7 L249.2 183.4 L250.55 184.11 L251.91 184.81 L253.27 185.52 L254.62 186.23 L255.98 186.94 L257.33 187.65 L258.69 188.36 L260.05 189.06 L261.4 189.77 L262.75 190.49 L264.08 191.25 L265.39 192.03 L266.7 192.83 L267.98 193.67 L269.25 194.52 L270.49 195.41 L271.71 196.34 L272.9 197.3 L274.07 198.29 L275.2 199.31 L276.32 200.36 L277.42 201.42 L278.52 202.49 L279.62 203.57 L280.69 204.67 L281.71 205.8 L282.65 206.99 L283.55 208.23 L284.39 209.51 L285.18 210.83 L285.92 212.16 L286.63 213.53 L287.29 214.92 L287.87 216.33 L288.34 217.77 L288.77 219.23 L289.15 220.72 L289.49 222.22 L289.79 223.73 L290.04 225.24 L290.26 226.74 L290.46 228.26 L290.64 229.78 L290.81 231.3 L290.97 232.83 L291.11 234.35 L291.24 235.88 L291.35 237.4 L291.47 238.93 L291.58 240.45 L291.69 241.98 L291.79 243.5 L291.89 245.03 L291.98 246.55 L292.06 248.08 L292.14 249.61 L292.2 251.14 L292.26 252.67 L292.3 254.2" fill="none" stroke="#000" stroke-width="1.5" stroke-linejoin="round"/>
<path d="M292.5 254.2 L292.5 253.44 L292.51 252.68 L292.52 251.92 L292.54 251.16 L292.56 250.4 L292.59 249.65 L292.62 248.89 L292.65 248.14 L292.69 247.38 L292.73 246.63 L292.77 245.87 L292.82 245.12 L292.87 244.37 L292.92 243.62 L292.98 242.87 L293.03 242.12 L293.09 241.37 L293.15 240.62 L293.21 239.87 L293.28 239.11 L293.36 238.34 L293.46 237.57 L293.56 236.8 L293.69 236.04 L293.83 235.29 L293.98 234.55 L294.16 233.84 L294.35 233.15 L294.6 232.45 L294.95 231.69 L295.39 230.94 L295.89 230.28 L296.44 229.8 L297.01 229.58 L297.69 229.46 L298.47 229.38 L299.28 229.32 L300.05 229.3 L300.77 229.37 L301.48 229.55 L302.19 229.81 L302.89 230.14 L303.59 230.5 L304.27 230.89 L304.96 231.27 L305.63 231.62 L306.3 231.96 L306.96 232.32 L307.61 232.7 L308.26 233.1 L308.9 233.5 L309.54 233.91 L310.18 234.31 L310.81 234.73 L311.44 235.15 L312.06 235.57 L312.68 236.01 L313.29 236.45 L313.9 236.9" fill="none" stroke="#000" stroke-width="1.5" stroke-linejoin="round"/>
<rect x="208.8" y="155.1" width="105" height="105.1" fill="none" stroke="#000" stroke-width="1.0"/>
<line x1="243.8" y1="260.2" x2="243.8" y2="258.6" stroke="#000" stroke-width="0.6"/>
<line x1="243.8" y1="155.1" x2="243.8" y2="156.7" stroke="#000" stroke-width="0.6"/>
<line x1="278.8" y1="260.2" x2="278.8" y2="258.6" stroke="#000" stroke-width="0.6"/>
<line x1="278.8" y1="155.1" x2="278.8" y2="156.7" stroke="#000" stroke-width="0.6"/>
<line x1="208.8" y1="172.62" x2="210.4" y2="172.62" stroke="#000" stroke-width="0.6"/>
<line x1="313.8" y1="172.62" x2="312.2" y2="172.62" stroke="#000" stroke-width="0.6"/>
<line x1="208.8" y1="190.13" x2="210.4" y2="190.13" stroke="#000" stroke-width="0.6"/>
<line x1="313.8" y1="190.13" x2="312.2" y2="190.13" stroke="#000" stroke-width="0.6"/>
<line x1="208.8" y1="207.65" x2="210.4" y2="207.65" stroke="#000" stroke-width="0.6"/>
<line x1="313.8" y1="207.65" x2="312.2" y2="207.65" stroke="#000" stroke-width="0.6"/>
<line x1="208.8" y1="225.17" x2="210.4" y2="225.17" stroke="#000" stroke-width="0.6"/>
<line x1="313.8" y1="225.17" x2="312.2" y2="225.17" stroke="#000" stroke-width="0.6"/>
<line x1="208.8" y1="242.68" x2="210.4" y2="242.68" stroke="#000" stroke-width="0.6"/>
<line x1="313.8" y1="242.68" x2="312.2" y2="242.68" stroke="#000" stroke-width="0.6"/>
<text x="194.3" y="149.2" font-size="11.9" text-anchor="start" fill="#000">(d)</text>
<text x="205.8" y="158.2" font-size="9.1" text-anchor="end" fill="#000">1</text>
<text x="201.3" y="194.7" font-size="9.1" text-anchor="end" fill="#000">10</text>
<text x="201.4" y="188.8" font-size="7.3" text-anchor="start" fill="#000">-2</text>
<text x="201.3" y="229.7" font-size="9.1" text-anchor="end" fill="#000">10</text>
<text x="201.4" y="223.8" font-size="7.3" text-anchor="start" fill="#000">-4</text>
<text x="209.1" y="271.2" font-size="9.1" text-anchor="middle" fill="#000">0.1</text>
<text x="243.5" y="271.2" font-size="9.1" text-anchor="middle" fill="#000">1</text>
<text x="314.1" y="271.2" font-size="9.1" text-anchor="middle" fill="#000">100</text>
<text x="279.5" y="271.2" font-size="9.1" text-anchor="middle" fill="#000">10</text>
<text x="252.3" y="278.6" font-size="12" text-anchor="start" fill="#000">t</text>
<text x="259.2" y="278.6" font-size="12" text-anchor="start" fill="#000">/</text>
<text transform="translate(265.4 278.6) scale(1.400 1)" font-size="12" text-anchor="start" fill="#000">τ</text>
<text x="271.1" y="280.9" font-size="9.6" text-anchor="start" fill="#000">s</text>
<text x="262.8" y="169.5" font-size="12.5" text-anchor="start" fill="#000">t</text>
<text x="266.3" y="164.25" font-size="7.3" text-anchor="start" fill="#000">-2</text>
<text x="295.3" y="195" font-size="12.5" text-anchor="start" fill="#000">t</text>
<text x="298.8" y="189.75" font-size="7.3" text-anchor="start" fill="#000">-1</text>
<line x1="166.1" y1="158.8" x2="166.1" y2="170" stroke="#000" stroke-width="0.95"/>
<text x="167.6" y="167.6" font-size="11.8" text-anchor="start" fill="#000">C</text>
<text x="177.5" y="160.9" font-size="6.8" text-anchor="start" fill="#000">(2)</text>
<text transform="translate(185.8 167.4) scale(1.130 1)" font-size="10.6" text-anchor="start" fill="#000">(t)</text>
<line x1="198.9" y1="158.8" x2="198.9" y2="170" stroke="#000" stroke-width="0.95"/>
<line x1="161.3" y1="171.6" x2="203" y2="171.6" stroke="#000" stroke-width="0.7"/>
<text transform="translate(162 181.5) scale(1.120 1)" font-size="10.7" text-anchor="start" fill="#000">(T</text>
<text x="173.5" y="183.6" font-size="9.8" text-anchor="start" fill="#000">S</text>
<text transform="translate(183.4 181.5) scale(1.120 1)" font-size="10.7" text-anchor="start" fill="#000">/</text>
<text transform="translate(189.8 181.5) scale(1.120 1)" font-size="10.7" text-anchor="start" fill="#000">m)</text>
<line x1="216" y1="221.6" x2="225" y2="221.6" stroke="#444" stroke-width="0.6"/>
<rect x="219" y="220.1" width="3" height="3" fill="#ff0000"/>
<text x="232.4" y="225.6" font-size="12.3" text-anchor="start" fill="#000">ST</text>
<line x1="216" y1="233.9" x2="225" y2="233.9" stroke="#444" stroke-width="0.6"/>
<circle cx="220.5" cy="233.9" r="1.5" fill="#fff" stroke="#2020e0" stroke-width="0.7"/>
<text x="232.4" y="238.2" font-size="12.3" text-anchor="start" fill="#000">SG</text>
<line x1="216" y1="249.3" x2="225" y2="249.3" stroke="#000" stroke-width="1.1"/>
<text x="233" y="252.8" font-size="12" text-anchor="start" fill="#000">Theory</text>
<line x1="411.4" y1="171.6" x2="475" y2="243.15" stroke="#000" stroke-width="1.15" stroke-dasharray="3.0 2.5"/>
<line x1="431" y1="161.9" x2="473.4" y2="258.15" stroke="#000" stroke-width="1.15" stroke-dasharray="3.0 2.5"/>
<path d="M402.1 177.9 L403.01 178.88 L403.92 179.85 L404.83 180.83 L405.73 181.8 L406.64 182.78 L407.55 183.75 L408.46 184.73 L409.37 185.7 L410.27 186.68 L411.18 187.66 L412.09 188.63 L413 189.61 L413.91 190.58 L414.81 191.56 L415.72 192.53 L416.64 193.51 L417.55 194.48 L418.46 195.45 L419.37 196.42 L420.29 197.39 L421.2 198.37 L422.11 199.34 L423.02 200.31 L423.93 201.29 L424.84 202.26 L425.75 203.24 L426.65 204.22 L427.55 205.2 L428.45 206.19 L429.34 207.17 L430.24 208.16 L431.12 209.16 L432.01 210.15 L432.89 211.15 L433.77 212.15 L434.65 213.16 L435.52 214.16 L436.4 215.17 L437.26 216.18 L438.13 217.2 L438.99 218.21 L439.85 219.23 L440.71 220.25 L441.56 221.28 L442.41 222.31 L443.25 223.34 L444.08 224.38 L444.91 225.43 L445.73 226.48 L446.55 227.53 L447.36 228.59 L448.17 229.65 L448.97 230.71 L449.77 231.78 L450.56 232.86 L451.35 233.93 L452.13 235.01 L452.9 236.1 L453.67 237.19 L454.43 238.28 L455.19 239.38 L455.94 240.48 L456.69 241.58 L457.43 242.69 L458.17 243.81 L458.89 244.92 L459.61 246.05 L460.31 247.18 L461.01 248.31 L461.7 249.45 L462.38 250.59 L463.06 251.74 L463.73 252.89 L464.39 254.05 L465.05 255.21 L465.7 256.37 L466.34 257.55 L466.97 258.72 L467.6 259.9" fill="none" stroke="#000" stroke-width="1.4" stroke-linejoin="round"/>
<rect x="367.59" y="155.35" width="1.5" height="1.5" fill="#ff0000"/>
<rect x="378.96" y="156.87" width="1.5" height="1.5" fill="#ff0000"/>
<rect x="385.21" y="158.56" width="1.5" height="1.5" fill="#ff0000"/>
<rect x="389.55" y="160.17" width="1.5" height="1.5" fill="#ff0000"/>
<rect x="392.87" y="161.56" width="1.5" height="1.5" fill="#ff0000"/>
<rect x="395.56" y="162.95" width="1.5" height="1.5" fill="#ff0000"/>
<rect x="397.83" y="164.11" width="1.5" height="1.5" fill="#ff0000"/>
<rect x="399.78" y="165.21" width="1.5" height="1.5" fill="#ff0000"/>
<rect x="401.5" y="166.34" width="1.5" height="1.5" fill="#ff0000"/>
<rect x="403.04" y="167.55" width="1.5" height="1.5" fill="#ff0000"/>
<rect x="404.42" y="168.76" width="1.5" height="1.5" fill="#ff0000"/>
<rect x="405.68" y="169.98" width="1.5" height="1.5" fill="#ff0000"/>
<rect x="406.84" y="171.22" width="1.5" height="1.5" fill="#ff0000"/>
<rect x="407.92" y="172.43" width="1.5" height="1.5" fill="#ff0000"/>
<rect x="408.91" y="173.64" width="1.5" height="1.5" fill="#ff0000"/>
<rect x="409.85" y="174.93" width="1.5" height="1.5" fill="#ff0000"/>
<rect x="410.72" y="176.25" width="1.5" height="1.5" fill="#ff0000"/>
<rect x="411.55" y="177.54" width="1.5" height="1.5" fill="#ff0000"/>
<rect x="412.33" y="178.74" width="1.5" height="1.5" fill="#ff0000"/>
<rect x="413.07" y="179.88" width="1.5" height="1.5" fill="#ff0000"/>
<rect x="413.77" y="180.99" width="1.5" height="1.5" fill="#ff0000"/>
<rect x="414.44" y="182.06" width="1.5" height="1.5" fill="#ff0000"/>
<rect x="415.08" y="183.1" width="1.5" height="1.5" fill="#ff0000"/>
<rect x="415.69" y="184.13" width="1.5" height="1.5" fill="#ff0000"/>
<rect x="416.28" y="185.13" width="1.5" height="1.5" fill="#ff0000"/>
<rect x="416.85" y="186.12" width="1.5" height="1.5" fill="#ff0000"/>
<rect x="417.39" y="187.07" width="1.5" height="1.5" fill="#ff0000"/>
<rect x="417.91" y="188" width="1.5" height="1.5" fill="#ff0000"/>
<rect x="418.42" y="188.91" width="1.5" height="1.5" fill="#ff0000"/>
<rect x="418.9" y="189.81" width="1.5" height="1.5" fill="#ff0000"/>
<rect x="419.15" y="190.14" width="1.7" height="1.7" fill="#ff0000"/>
<rect x="419.7" y="191.2" width="1.7" height="1.7" fill="#ff0000"/>
<rect x="420.25" y="192.26" width="1.7" height="1.7" fill="#ff0000"/>
<rect x="420.8" y="193.35" width="1.7" height="1.7" fill="#ff0000"/>
<rect x="421.35" y="194.49" width="1.7" height="1.7" fill="#ff0000"/>
<rect x="421.4" y="196" width="1.7" height="1.7" fill="#ff0000"/>
<rect x="421.95" y="197.23" width="1.7" height="1.7" fill="#ff0000"/>
<rect x="422.5" y="198.48" width="1.7" height="1.7" fill="#ff0000"/>
<rect x="423.05" y="199.73" width="1.7" height="1.7" fill="#ff0000"/>
<rect x="423.6" y="201.02" width="1.7" height="1.7" fill="#ff0000"/>
<rect x="424.15" y="202.43" width="1.7" height="1.7" fill="#ff0000"/>
<rect x="424.7" y="203.84" width="1.7" height="1.7" fill="#ff0000"/>
<rect x="425.25" y="205.15" width="1.7" height="1.7" fill="#ff0000"/>
<rect x="425.8" y="206.23" width="1.7" height="1.7" fill="#ff0000"/>
<rect x="426.35" y="206.99" width="1.7" height="1.7" fill="#ff0000"/>
<rect x="426.9" y="207.59" width="1.7" height="1.7" fill="#ff0000"/>
<rect x="427.45" y="208.11" width="1.7" height="1.7" fill="#ff0000"/>
<rect x="428" y="208.55" width="1.7" height="1.7" fill="#ff0000"/>
<rect x="428.55" y="208.95" width="1.7" height="1.7" fill="#ff0000"/>
<rect x="429.1" y="209.32" width="1.7" height="1.7" fill="#ff0000"/>
<rect x="429.65" y="209.65" width="1.7" height="1.7" fill="#ff0000"/>
<rect x="430.2" y="209.94" width="1.7" height="1.7" fill="#ff0000"/>
<rect x="430.75" y="210.21" width="1.7" height="1.7" fill="#ff0000"/>
<rect x="431.3" y="210.46" width="1.7" height="1.7" fill="#ff0000"/>
<rect x="431.85" y="210.72" width="1.7" height="1.7" fill="#ff0000"/>
<rect x="432.4" y="211.01" width="1.7" height="1.7" fill="#ff0000"/>
<rect x="432.95" y="211.33" width="1.7" height="1.7" fill="#ff0000"/>
<rect x="433.5" y="211.68" width="1.7" height="1.7" fill="#ff0000"/>
<rect x="434.05" y="212.04" width="1.7" height="1.7" fill="#ff0000"/>
<rect x="434.6" y="212.42" width="1.7" height="1.7" fill="#ff0000"/>
<rect x="435.15" y="212.81" width="1.7" height="1.7" fill="#ff0000"/>
<rect x="435.7" y="213.22" width="1.7" height="1.7" fill="#ff0000"/>
<rect x="436.25" y="213.63" width="1.7" height="1.7" fill="#ff0000"/>
<rect x="436.8" y="214.05" width="1.7" height="1.7" fill="#ff0000"/>
<rect x="437.35" y="214.4" width="1.7" height="1.7" fill="#ff0000"/>
<rect x="437.9" y="214.64" width="1.7" height="1.7" fill="#ff0000"/>
<rect x="438.45" y="215.53" width="1.7" height="1.7" fill="#ff0000"/>
<rect x="439" y="215.93" width="1.7" height="1.7" fill="#ff0000"/>
<rect x="439.73" y="216.41" width="1.35" height="1.35" fill="#ff0000"/>
<rect x="440.28" y="216.76" width="1.35" height="1.35" fill="#ff0000"/>
<rect x="440.83" y="217.39" width="1.35" height="1.35" fill="#ff0000"/>
<rect x="441.38" y="217.91" width="1.35" height="1.35" fill="#ff0000"/>
<rect x="441.93" y="218.17" width="1.35" height="1.35" fill="#ff0000"/>
<rect x="442.48" y="218.64" width="1.35" height="1.35" fill="#ff0000"/>
<rect x="443.03" y="219.27" width="1.35" height="1.35" fill="#ff0000"/>
<rect x="443.58" y="220.17" width="1.35" height="1.35" fill="#ff0000"/>
<rect x="444.13" y="220.33" width="1.35" height="1.35" fill="#ff0000"/>
<rect x="444.68" y="220.45" width="1.35" height="1.35" fill="#ff0000"/>
<rect x="445.23" y="220.91" width="1.35" height="1.35" fill="#ff0000"/>
<rect x="445.78" y="221.59" width="1.35" height="1.35" fill="#ff0000"/>
<rect x="446.33" y="221.75" width="1.35" height="1.35" fill="#ff0000"/>
<rect x="446.88" y="222.22" width="1.35" height="1.35" fill="#ff0000"/>
<rect x="447.43" y="223.1" width="1.35" height="1.35" fill="#ff0000"/>
<rect x="447.98" y="223" width="1.35" height="1.35" fill="#ff0000"/>
<rect x="448.53" y="224.02" width="1.35" height="1.35" fill="#ff0000"/>
<rect x="449.08" y="224.33" width="1.35" height="1.35" fill="#ff0000"/>
<rect x="449.63" y="225.33" width="1.35" height="1.35" fill="#ff0000"/>
<rect x="450.18" y="225.9" width="1.35" height="1.35" fill="#ff0000"/>
<rect x="450.73" y="226.34" width="1.35" height="1.35" fill="#ff0000"/>
<rect x="451.28" y="226.87" width="1.35" height="1.35" fill="#ff0000"/>
<rect x="451.83" y="226.91" width="1.35" height="1.35" fill="#ff0000"/>
<rect x="452.38" y="227.96" width="1.35" height="1.35" fill="#ff0000"/>
<rect x="452.93" y="228.01" width="1.35" height="1.35" fill="#ff0000"/>
<rect x="453.48" y="229.03" width="1.35" height="1.35" fill="#ff0000"/>
<rect x="454.03" y="229.25" width="1.35" height="1.35" fill="#ff0000"/>
<rect x="454.58" y="230.13" width="1.35" height="1.35" fill="#ff0000"/>
<rect x="455.13" y="230.12" width="1.35" height="1.35" fill="#ff0000"/>
<rect x="455.68" y="231.14" width="1.35" height="1.35" fill="#ff0000"/>
<rect x="456.23" y="233.21" width="1.35" height="1.35" fill="#ff0000"/>
<rect x="456.78" y="232.5" width="1.35" height="1.35" fill="#ff0000"/>
<rect x="457.33" y="234.09" width="1.35" height="1.35" fill="#ff0000"/>
<rect x="457.88" y="234.7" width="1.35" height="1.35" fill="#ff0000"/>
<rect x="458.43" y="235.52" width="1.35" height="1.35" fill="#ff0000"/>
<rect x="458.98" y="235.66" width="1.35" height="1.35" fill="#ff0000"/>
<rect x="459.53" y="236.53" width="1.35" height="1.35" fill="#ff0000"/>
<rect x="460.08" y="236" width="1.35" height="1.35" fill="#ff0000"/>
<rect x="460.63" y="236.59" width="1.35" height="1.35" fill="#ff0000"/>
<rect x="461.18" y="237.44" width="1.35" height="1.35" fill="#ff0000"/>
<rect x="461.73" y="237.91" width="1.35" height="1.35" fill="#ff0000"/>
<rect x="462.28" y="238.35" width="1.35" height="1.35" fill="#ff0000"/>
<rect x="462.83" y="238.97" width="1.35" height="1.35" fill="#ff0000"/>
<rect x="463.38" y="240.51" width="1.35" height="1.35" fill="#ff0000"/>
<rect x="463.93" y="240.19" width="1.35" height="1.35" fill="#ff0000"/>
<rect x="464.48" y="242.56" width="1.35" height="1.35" fill="#ff0000"/>
<rect x="465.03" y="242.44" width="1.35" height="1.35" fill="#ff0000"/>
<rect x="465.58" y="242.61" width="1.35" height="1.35" fill="#ff0000"/>
<rect x="466.13" y="243.54" width="1.35" height="1.35" fill="#ff0000"/>
<rect x="466.68" y="242.91" width="1.35" height="1.35" fill="#ff0000"/>
<rect x="467.23" y="245.09" width="1.35" height="1.35" fill="#ff0000"/>
<rect x="467.78" y="245.34" width="1.35" height="1.35" fill="#ff0000"/>
<rect x="468.33" y="245.51" width="1.35" height="1.35" fill="#ff0000"/>
<rect x="468.88" y="245.31" width="1.35" height="1.35" fill="#ff0000"/>
<rect x="469.43" y="246.73" width="1.35" height="1.35" fill="#ff0000"/>
<rect x="469.98" y="246.9" width="1.35" height="1.35" fill="#ff0000"/>
<rect x="470.53" y="247.1" width="1.35" height="1.35" fill="#ff0000"/>
<rect x="471.08" y="248.23" width="1.35" height="1.35" fill="#ff0000"/>
<rect x="471.63" y="247.84" width="1.35" height="1.35" fill="#ff0000"/>
<rect x="472.18" y="247.46" width="1.35" height="1.35" fill="#ff0000"/>
<rect x="472.73" y="248.38" width="1.35" height="1.35" fill="#ff0000"/>
<circle cx="367.84" cy="156.5" r="0.95" fill="#1818ff"/>
<circle cx="379.21" cy="158.02" r="0.95" fill="#1818ff"/>
<circle cx="385.46" cy="159.71" r="0.95" fill="#1818ff"/>
<circle cx="389.8" cy="161.32" r="0.95" fill="#1818ff"/>
<circle cx="393.12" cy="162.71" r="0.95" fill="#1818ff"/>
<circle cx="395.81" cy="164.1" r="0.95" fill="#1818ff"/>
<circle cx="398.08" cy="165.26" r="0.95" fill="#1818ff"/>
<circle cx="400.03" cy="166.36" r="0.95" fill="#1818ff"/>
<circle cx="401.75" cy="167.49" r="0.95" fill="#1818ff"/>
<circle cx="403.29" cy="168.7" r="0.95" fill="#1818ff"/>
<circle cx="404.67" cy="169.91" r="0.95" fill="#1818ff"/>
<circle cx="405.93" cy="171.13" r="0.95" fill="#1818ff"/>
<circle cx="407.09" cy="172.37" r="0.95" fill="#1818ff"/>
<circle cx="408.17" cy="173.58" r="0.95" fill="#1818ff"/>
<circle cx="409.16" cy="174.79" r="0.95" fill="#1818ff"/>
<circle cx="410.1" cy="176.08" r="0.95" fill="#1818ff"/>
<circle cx="410.97" cy="177.4" r="0.95" fill="#1818ff"/>
<circle cx="411.8" cy="178.69" r="0.95" fill="#1818ff"/>
<circle cx="412.58" cy="179.89" r="0.95" fill="#1818ff"/>
<circle cx="413.32" cy="181.03" r="0.95" fill="#1818ff"/>
<circle cx="414.02" cy="182.14" r="0.95" fill="#1818ff"/>
<circle cx="414.69" cy="183.21" r="0.95" fill="#1818ff"/>
<circle cx="415.33" cy="184.25" r="0.95" fill="#1818ff"/>
<circle cx="415.94" cy="185.28" r="0.95" fill="#1818ff"/>
<circle cx="416.53" cy="186.28" r="0.95" fill="#1818ff"/>
<circle cx="417.1" cy="187.27" r="0.95" fill="#1818ff"/>
<circle cx="417.64" cy="188.22" r="0.95" fill="#1818ff"/>
<circle cx="418.16" cy="189.15" r="0.95" fill="#1818ff"/>
<circle cx="418.67" cy="190.06" r="0.95" fill="#1818ff"/>
<circle cx="419.15" cy="190.96" r="0.95" fill="#1818ff"/>
<circle cx="419.5" cy="191.6" r="0.95" fill="#0000ff"/>
<circle cx="420.2" cy="192.91" r="0.95" fill="#0000ff"/>
<circle cx="420.9" cy="194.2" r="0.95" fill="#0000ff"/>
<circle cx="421.6" cy="195.51" r="0.95" fill="#0000ff"/>
<circle cx="422.3" cy="196.86" r="0.95" fill="#0000ff"/>
<circle cx="423" cy="198.23" r="0.95" fill="#0000ff"/>
<circle cx="423.7" cy="199.57" r="0.95" fill="#0000ff"/>
<circle cx="424.4" cy="200.85" r="0.95" fill="#0000ff"/>
<circle cx="425.1" cy="202.04" r="0.95" fill="#0000ff"/>
<circle cx="425.8" cy="203.1" r="0.95" fill="#0000ff"/>
<circle cx="426.5" cy="204" r="0.95" fill="#0000ff"/>
<circle cx="427.2" cy="204.82" r="0.95" fill="#0000ff"/>
<circle cx="427.9" cy="205.57" r="0.95" fill="#0000ff"/>
<circle cx="428.6" cy="206.27" r="0.95" fill="#0000ff"/>
<circle cx="429.3" cy="206.92" r="0.95" fill="#0000ff"/>
<circle cx="430" cy="207.55" r="0.95" fill="#0000ff"/>
<circle cx="430.7" cy="208.17" r="0.95" fill="#0000ff"/>
<circle cx="431.4" cy="208.79" r="0.95" fill="#0000ff"/>
<circle cx="432.1" cy="209.42" r="0.95" fill="#0000ff"/>
<circle cx="432.8" cy="210.09" r="0.95" fill="#0000ff"/>
<circle cx="433.5" cy="210.8" r="0.95" fill="#0000ff"/>
<circle cx="434.2" cy="211.54" r="0.95" fill="#0000ff"/>
<circle cx="434.9" cy="212.29" r="0.95" fill="#0000ff"/>
<circle cx="435.6" cy="213.06" r="0.95" fill="#0000ff"/>
<circle cx="436.3" cy="213.83" r="0.95" fill="#0000ff"/>
<circle cx="437" cy="214.61" r="0.95" fill="#0000ff"/>
<circle cx="437.7" cy="215.4" r="0.95" fill="#0000ff"/>
<circle cx="438.4" cy="216.2" r="0.95" fill="#0000ff"/>
<circle cx="439.1" cy="217" r="0.95" fill="#0000ff"/>
<circle cx="439.8" cy="217.82" r="0.95" fill="#0000ff"/>
<circle cx="440.5" cy="218.65" r="0.95" fill="#0000ff"/>
<circle cx="441.2" cy="219.48" r="0.95" fill="#0000ff"/>
<circle cx="441.9" cy="220.32" r="0.95" fill="#0000ff"/>
<circle cx="442.6" cy="221.17" r="0.95" fill="#0000ff"/>
<circle cx="443.3" cy="222.04" r="0.95" fill="#0000ff"/>
<circle cx="444" cy="222.91" r="0.95" fill="#0000ff"/>
<circle cx="444.7" cy="223.8" r="0.95" fill="#0000ff"/>
<circle cx="445.4" cy="224.7" r="0.95" fill="#0000ff"/>
<circle cx="446.1" cy="225.6" r="0.95" fill="#0000ff"/>
<circle cx="446.8" cy="226.52" r="0.95" fill="#0000ff"/>
<circle cx="447.5" cy="227.45" r="0.95" fill="#0000ff"/>
<circle cx="448.2" cy="228.38" r="0.95" fill="#0000ff"/>
<circle cx="448.9" cy="229.33" r="0.95" fill="#0000ff"/>
<circle cx="448.8" cy="230.15" r="0.85" fill="#2828ff"/>
<circle cx="449.4" cy="231.07" r="0.85" fill="#2828ff"/>
<circle cx="450" cy="232.01" r="0.85" fill="#2828ff"/>
<circle cx="450.6" cy="232.97" r="0.85" fill="#2828ff"/>
<circle cx="451.2" cy="233.94" r="0.85" fill="#2828ff"/>
<circle cx="451.8" cy="234.93" r="0.85" fill="#2828ff"/>
<circle cx="452.4" cy="235.94" r="0.85" fill="#2828ff"/>
<circle cx="453" cy="236.97" r="0.85" fill="#2828ff"/>
<circle cx="453.6" cy="238.02" r="0.85" fill="#2828ff"/>
<circle cx="454.2" cy="239.08" r="0.85" fill="#2828ff"/>
<circle cx="454.8" cy="240.16" r="0.85" fill="#2828ff"/>
<circle cx="455.4" cy="241.25" r="0.85" fill="#2828ff"/>
<circle cx="456" cy="242.34" r="0.85" fill="#2828ff"/>
<circle cx="456.6" cy="243.47" r="0.85" fill="#2828ff"/>
<circle cx="457.2" cy="244.61" r="0.85" fill="#2828ff"/>
<circle cx="451.5" cy="237" r="0.85" fill="#3030ff"/>
<circle cx="454.4" cy="241.4" r="0.85" fill="#3030ff"/>
<circle cx="456.6" cy="245.1" r="0.85" fill="#3030ff"/>
<circle cx="457.3" cy="249.5" r="0.85" fill="#3030ff"/>
<circle cx="460.2" cy="252.4" r="0.85" fill="#3030ff"/>
<circle cx="459.5" cy="256" r="0.85" fill="#3030ff"/>
<circle cx="462.5" cy="254.5" r="0.85" fill="#3030ff"/>
<circle cx="463.8" cy="258.2" r="0.85" fill="#3030ff"/>
<circle cx="465.4" cy="259" r="0.85" fill="#3030ff"/>
<circle cx="461.6" cy="257.6" r="0.85" fill="#3030ff"/>
<circle cx="458.6" cy="251" r="0.85" fill="#3030ff"/>
<circle cx="455.8" cy="247.4" r="0.85" fill="#3030ff"/>
<circle cx="466.2" cy="259.4" r="0.85" fill="#3030ff"/>
<circle cx="468.6" cy="259" r="0.85" fill="#3030ff"/>
<circle cx="470.3" cy="260.4" r="0.85" fill="#3030ff"/>
<circle cx="469.6" cy="262.4" r="0.85" fill="#3030ff"/>
<circle cx="467.5" cy="263" r="0.85" fill="#3030ff"/>
<circle cx="465.8" cy="261.8" r="0.85" fill="#3030ff"/>
<circle cx="464.6" cy="260.4" r="0.85" fill="#3030ff"/>
<circle cx="467.8" cy="261.2" r="0.85" fill="#3030ff"/>
<rect x="367.5" y="155" width="110" height="109.8" fill="none" stroke="#000" stroke-width="1.1"/>
<line x1="370.5" y1="264.8" x2="370.5" y2="263.2" stroke="#000" stroke-width="0.6"/>
<line x1="370.5" y1="155" x2="370.5" y2="156.6" stroke="#000" stroke-width="0.6"/>
<line x1="403.4" y1="264.8" x2="403.4" y2="263.2" stroke="#000" stroke-width="0.6"/>
<line x1="403.4" y1="155" x2="403.4" y2="156.6" stroke="#000" stroke-width="0.6"/>
<line x1="436.3" y1="264.8" x2="436.3" y2="263.2" stroke="#000" stroke-width="0.6"/>
<line x1="436.3" y1="155" x2="436.3" y2="156.6" stroke="#000" stroke-width="0.6"/>
<line x1="469.2" y1="264.8" x2="469.2" y2="263.2" stroke="#000" stroke-width="0.6"/>
<line x1="469.2" y1="155" x2="469.2" y2="156.6" stroke="#000" stroke-width="0.6"/>
<line x1="367.5" y1="161" x2="369.1" y2="161" stroke="#000" stroke-width="0.6"/>
<line x1="477.5" y1="161" x2="475.9" y2="161" stroke="#000" stroke-width="0.6"/>
<line x1="367.5" y1="185.9" x2="369.1" y2="185.9" stroke="#000" stroke-width="0.6"/>
<line x1="477.5" y1="185.9" x2="475.9" y2="185.9" stroke="#000" stroke-width="0.6"/>
<line x1="367.5" y1="210.8" x2="369.1" y2="210.8" stroke="#000" stroke-width="0.6"/>
<line x1="477.5" y1="210.8" x2="475.9" y2="210.8" stroke="#000" stroke-width="0.6"/>
<line x1="367.5" y1="235.7" x2="369.1" y2="235.7" stroke="#000" stroke-width="0.6"/>
<line x1="477.5" y1="235.7" x2="475.9" y2="235.7" stroke="#000" stroke-width="0.6"/>
<line x1="367.5" y1="260.6" x2="369.1" y2="260.6" stroke="#000" stroke-width="0.6"/>
<line x1="477.5" y1="260.6" x2="475.9" y2="260.6" stroke="#000" stroke-width="0.6"/>
<text x="352.3" y="153" font-size="11.9" text-anchor="start" fill="#000">(e)</text>
<text x="366" y="163.5" font-size="9.1" text-anchor="end" fill="#000">1</text>
<text x="361.4" y="216.5" font-size="9.1" text-anchor="end" fill="#000">10</text>
<text x="361.5" y="210.6" font-size="7.3" text-anchor="start" fill="#000">-2</text>
<text x="361.4" y="265.5" font-size="9.1" text-anchor="end" fill="#000">10</text>
<text x="361.5" y="259.6" font-size="7.3" text-anchor="start" fill="#000">-4</text>
<text x="369.4" y="272.8" font-size="9.1" text-anchor="middle" fill="#000">0.01</text>
<text x="401.4" y="272.6" font-size="9.1" text-anchor="middle" fill="#000">0.1</text>
<text x="434.4" y="272.8" font-size="9.1" text-anchor="middle" fill="#000">1</text>
<text x="469.6" y="272.6" font-size="9.1" text-anchor="middle" fill="#000">10</text>
<text x="408.1" y="281.6" font-size="12" text-anchor="start" fill="#000">t</text>
<text x="415" y="281.6" font-size="12" text-anchor="start" fill="#000">/</text>
<text transform="translate(421.2 281.6) scale(1.400 1)" font-size="12" text-anchor="start" fill="#000">τ</text>
<text x="426.9" y="283.9" font-size="9.6" text-anchor="start" fill="#000">s</text>
<text x="409.6" y="169.7" font-size="12.5" text-anchor="start" fill="#000">t</text>
<text x="413.9" y="164.9" font-size="7.3" text-anchor="start" fill="#000">-3 / 2</text>
<text x="441.4" y="177" font-size="12.5" text-anchor="start" fill="#000">t</text>
<text x="444.9" y="171.75" font-size="7.3" text-anchor="start" fill="#000">-3</text>
<text x="322.5" y="167.7" font-size="11.8" text-anchor="start" fill="#000">C</text>
<text x="332.4" y="161" font-size="6.8" text-anchor="start" fill="#000">(3)</text>
<text transform="translate(340.7 167.5) scale(1.130 1)" font-size="10.6" text-anchor="start" fill="#000">(t)</text>
<line x1="318.6" y1="171.4" x2="360.3" y2="171.4" stroke="#000" stroke-width="0.7"/>
<text transform="translate(319.3 181.8) scale(1.120 1)" font-size="10.7" text-anchor="start" fill="#000">(T</text>
<text x="330.8" y="183.9" font-size="9.8" text-anchor="start" fill="#000">S</text>
<text transform="translate(340.7 181.8) scale(1.120 1)" font-size="10.7" text-anchor="start" fill="#000">/</text>
<text transform="translate(347.1 181.8) scale(1.120 1)" font-size="10.7" text-anchor="start" fill="#000">m)</text>
<rect x="384.15" y="225.35" width="3.3" height="3.3" fill="#ff0000"/>
<text x="395.4" y="230.5" font-size="12.3" text-anchor="start" fill="#000">EQ</text>
<circle cx="385.8" cy="242.6" r="1.6" fill="none" stroke="#0000ff" stroke-width="0.9"/>
<text x="395" y="246.9" font-size="12.3" text-anchor="start" fill="#000">ST</text>
<line x1="377.3" y1="256.3" x2="391.4" y2="256.3" stroke="#000" stroke-width="1.2"/>
<text x="397.6" y="258.9" font-size="8.9" text-anchor="start" fill="#000">Theory for ST</text>
</svg>
</body></html>
